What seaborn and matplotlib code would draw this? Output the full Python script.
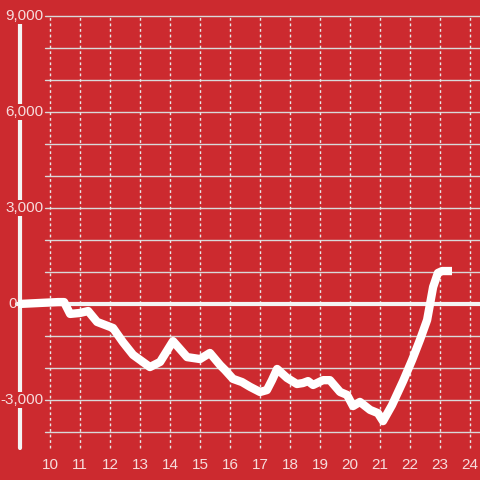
import matplotlib
matplotlib.use("Agg")
import matplotlib.pyplot as plt
import seaborn as sns
import pandas as pd

## Values (hour of day, running total)
hours = [8.95, 10.27, 10.47, 10.67, 11.0, 11.27, 11.57, 12.1, 12.43, 12.77,
         13.33, 13.67, 14.1, 14.57, 15.0, 15.33, 15.67, 15.83, 16.1, 16.4,
         16.67, 17.0, 17.23, 17.4, 17.57, 17.9, 18.23, 18.43, 18.6, 18.77,
         19.1, 19.33, 19.67, 19.9, 20.1, 20.33, 20.67, 20.93, 21.1, 21.4,
         21.77, 22.07, 22.33, 22.57, 22.77, 22.93, 23.07, 23.4]
values = [0, 60, 60, -310, -280, -220, -560, -750, -1190, -1590,
          -1970, -1810, -1160, -1660, -1720, -1530, -1910, -2060, -2340, -2440,
          -2590, -2750, -2690, -2380, -2030, -2310, -2500, -2470, -2410, -2530,
          -2380, -2380, -2750, -2840, -3190, -3060, -3310, -3410, -3660, -3160,
          -2410, -1750, -1125, -500, 530, 970, 1030, 1030]

x_ticks = list(range(10, 25))
y_ticks = [9000, 6000, 3000, 0, -3000]
y_labels = ["9,000", "6,000", "3,000", "0", "-3,000"]
y_grid = list(range(-4000, 10000, 1000))

bg = "#cc2a2f"
txt = "#f6dcdc"

sns.set_style("white")
plt.rcParams["font.family"] = ["Liberation Sans", "DejaVu Sans"]

df = pd.DataFrame({"hour": hours, "value": values})

fig = plt.figure(figsize=(4.8, 4.8), dpi=100, facecolor=bg)
ax = fig.add_axes([0, 0, 1, 1])
ax.set_facecolor(bg)
for s in ax.spines.values():
    s.set_visible(False)

## grid
for g in y_grid:
    if g != 0:
        ax.axhline(g, xmin=45 / 480, xmax=1, color="#d9d9d9", lw=1, zorder=1)
for t in x_ticks:
    ax.plot([t, t], [-4500, 9000], color="#e8e8e8", lw=1, ls=(0, (2, 2)), zorder=1)

## left spine and zero line
ax.plot([9.0, 9.0], [-4500, 9000], color="#f4f4f4", lw=3, zorder=2)
ax.axhline(0, xmin=17 / 480, xmax=1, color="#f4f4f4", lw=3, zorder=2)

sns.lineplot(data=df, x="hour", y="value", ax=ax, color="white", lw=6,
             solid_capstyle="butt", solid_joinstyle="round", zorder=4)
ax.set_xlabel("")
ax.set_ylabel("")
ax.set_xticks([])
ax.set_yticks([])
ax.set_xlim(8.333, 24.333)
ax.set_ylim(-5500, 9500)

for v, lab in zip(y_ticks, y_labels):
    if lab == "0":
        ## the zero label sits left of the axis line in the original
        ax.text(8.6, v, lab, ha="left", va="center", color=txt, fontsize=11,
                zorder=5)
    else:
        ax.text(9.77, v, lab, ha="right", va="center", color=txt, fontsize=11,
                zorder=5, bbox=dict(facecolor=bg, edgecolor="none", pad=1))
for t in x_ticks:
    ax.text(t, -5030, str(t), ha="center", va="center", color=txt,
            fontsize=11, zorder=5)

fig.savefig("out.png", dpi=100, facecolor=bg)
